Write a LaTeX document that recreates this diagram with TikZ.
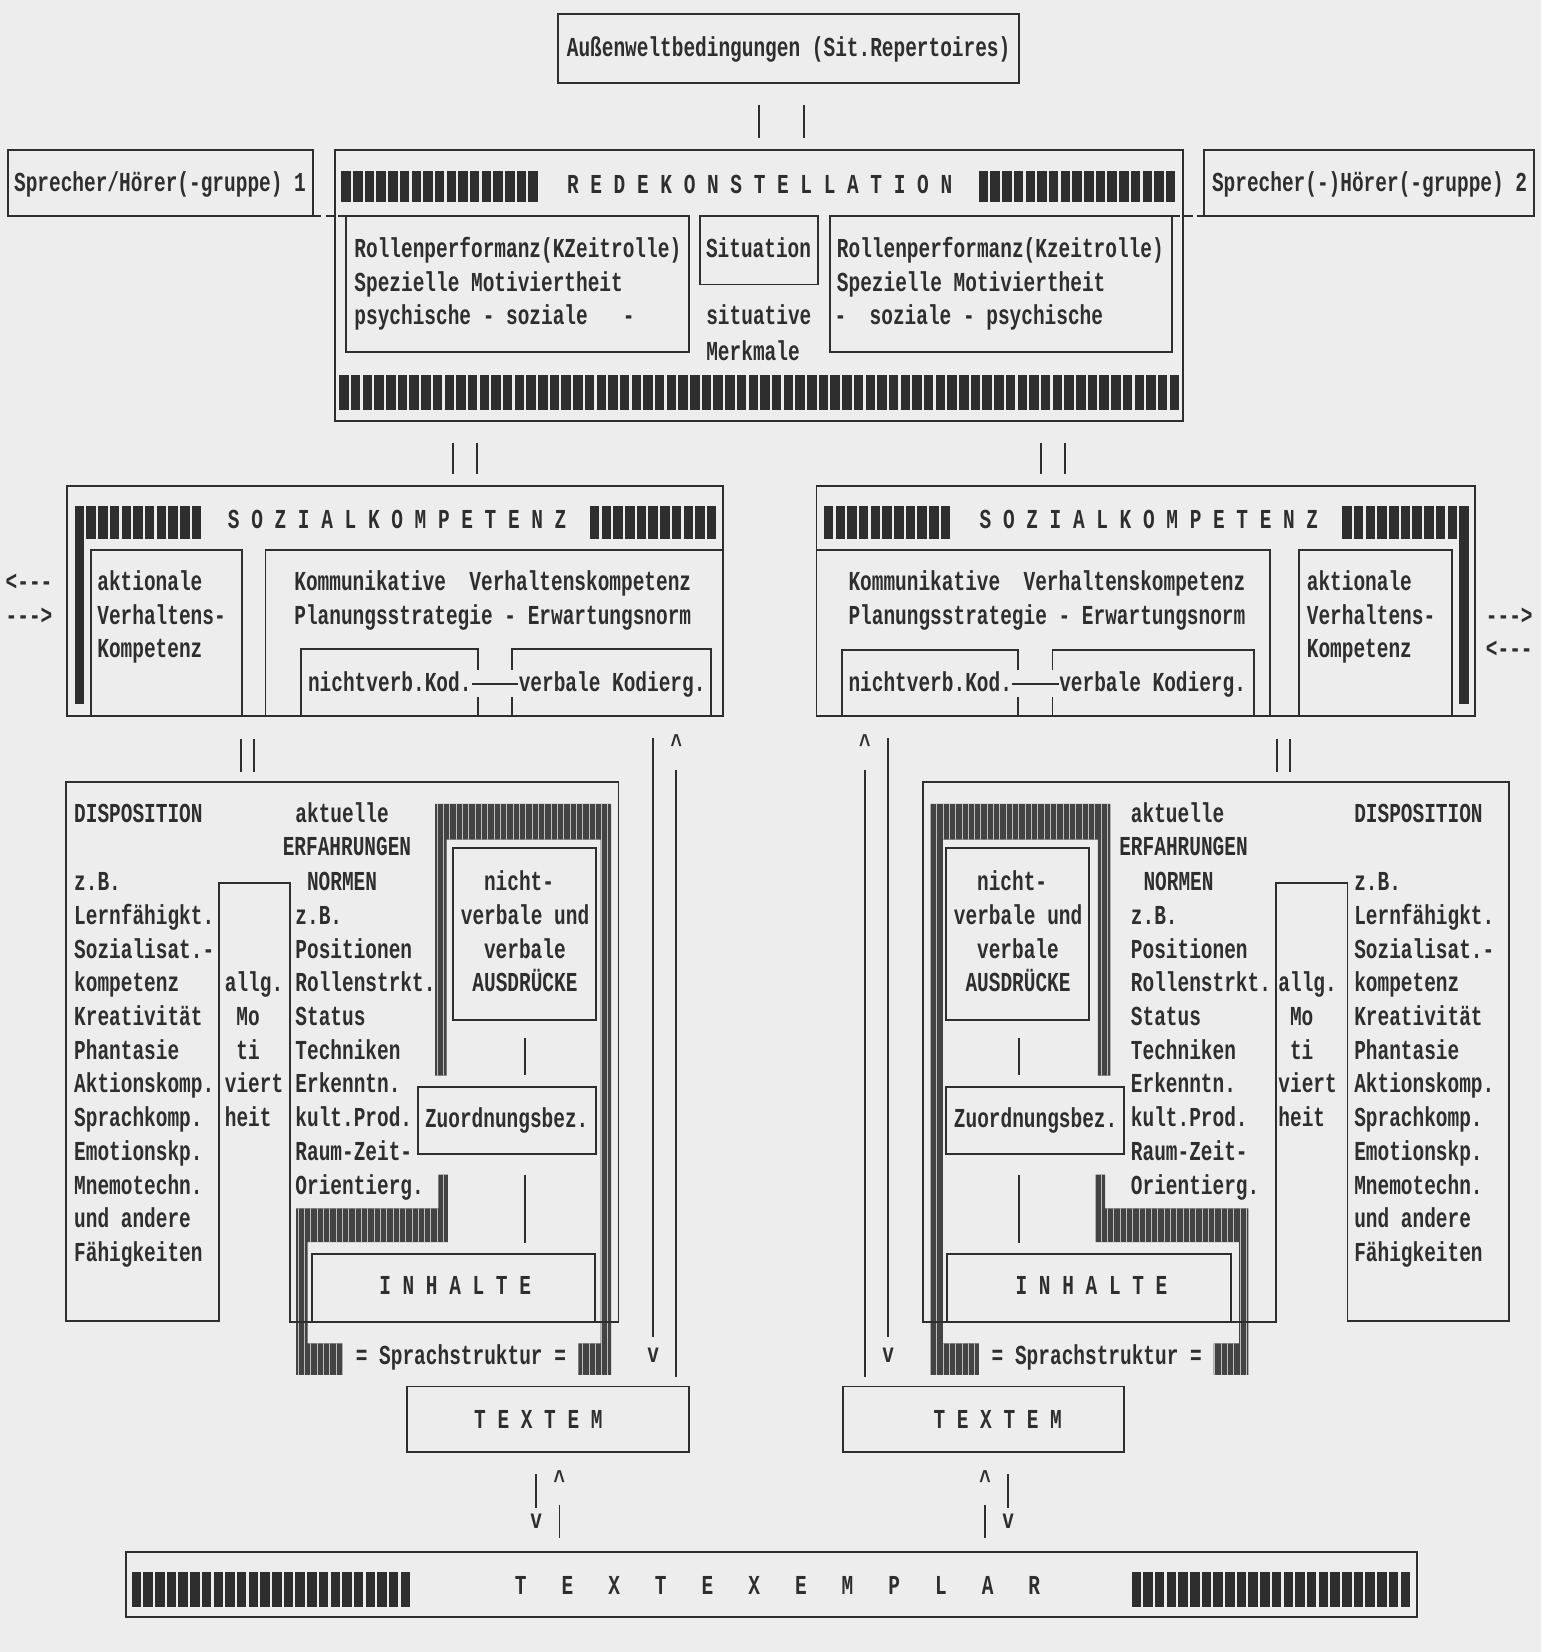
\documentclass[tikz,border=0pt]{standalone}
\usepackage{fontspec}
\setmonofont{Liberation Mono}[FakeStretch=0.71]
\usetikzlibrary{patterns}
\definecolor{ink}{gray}{0.18}
\definecolor{paper}{gray}{0.93}
\tikzset{
    box/.style={draw=ink, line width=0.9pt},
    vline/.style={draw=ink, line width=0.9pt},
    dashlink/.style={draw=ink, line width=0.9pt, dash pattern=on 4pt off 2pt},
    txt/.style={anchor=west, inner sep=0pt, text height=7.4pt, text depth=0pt,
        text=ink, font=\ttfamily\bfseries\fontsize{13}{16}\selectfont},
    ctxt/.style={txt, anchor=center},
    hatch/.style={fill=ink!90, postaction={pattern=vertical lines, pattern color=paper!75!ink}}
}
% row of typewriter blocks: x start, count, y top, y bottom
\newcommand{\blockrow}[4]{%
  \foreach \k in {1,...,#2}
    \fill[ink] ({#1+(\k-1)*11.1},#3) rectangle ++(9,{#4-#3});
}

\begin{document}
\begin{tikzpicture}[x=0.5pt, y=-0.5pt]

\fill[paper] (0,0) rectangle (1463,1568);
\useasboundingbox (0,0) rectangle (1463,1568);

% ------------------------------------------------------------
% Aussenwelt and Redekonstellation
% ------------------------------------------------------------

\draw[box] (530,13) rectangle (967,79);
\node[ctxt] (aussen) at (748.5,46) {Außenweltbedingungen (Sit.Repertoires)};

\coordinate (a1) at (720,100);
\coordinate (a2) at (720,131);
\coordinate (a3) at (763,100);
\coordinate (a4) at (763,131);
\draw[vline] (a1) -- (a2);
\draw[vline] (a3) -- (a4);

% speaker groups
\draw[box] (8,142) rectangle (297,205);
\node[txt] (sp1) at (13,174) {Sprecher/Hörer(-gruppe) 1};
\draw[box] (1143,142) rectangle (1456,205);
\node[txt] (sp2) at (1150,174) {Sprecher(-)Hörer(-gruppe) 2};

\draw[box] (318,142) rectangle (1123,400);
\blockrow{324}{17}{162}{192}
\node[ctxt] (rede) at (721,176) {R E D E K O N S T E L L A T I O N};
\blockrow{929}{17}{162}{192}

\draw[box] (328,205) rectangle (654,334);
\draw[box] (664,205) rectangle (776,270);
\draw[box] (788,205) rectangle (1112,334);

\node[txt] (rl1) at (336,237) {Rollenperformanz(KZeitrolle)};
\node[txt] (rl2) at (336,269) {Spezielle Motiviertheit};
\node[txt] (rl3) at (336,301) {psychische - soziale\ \ \ -};
\node[ctxt] (sit) at (720,237) {Situation};
\node[txt] (rr1) at (794,237) {Rollenperformanz(Kzeitrolle)};
\node[txt] (rr2) at (794,269) {Spezielle Motiviertheit};
\node[txt] (sit2) at (670,301) {situative\ \ -\ \ soziale - psychische};
\node[txt] (merk) at (670,335) {Merkmale};

\blockrow{322}{72}{356}{389}

% dashed joins to the speakers
\coordinate (sp1se) at (297,205);
\coordinate (rlnw) at (328,205);
\coordinate (rrne) at (1112,205);
\coordinate (sp2sw) at (1143,205);
\draw[dashlink] (sp1se) -- (rlnw);
\draw[dashlink] (rrne) -- (sp2sw);

\coordinate (b1) at (430,420);
\coordinate (b2) at (430,450);
\coordinate (b3) at (453,420);
\coordinate (b4) at (453,450);
\coordinate (b5) at (988,420);
\coordinate (b6) at (988,450);
\coordinate (b7) at (1011,420);
\coordinate (b8) at (1011,450);
\draw[vline] (b1) -- (b2);
\draw[vline] (b3) -- (b4);
\draw[vline] (b5) -- (b6);
\draw[vline] (b7) -- (b8);

% ------------------------------------------------------------
% Sozialkompetenz (left)
% ------------------------------------------------------------

\draw[box] (64,461) rectangle (686,680);
\blockrow{71}{11}{480}{512}
\node[ctxt] (sozl) at (377,494) {S O Z I A L K O M P E T E N Z};
\blockrow{560}{11}{480}{512}
\fill[ink] (71,512) rectangle (80,668);

\draw[box] (86,522) rectangle (230,680);
\node[txt] (akl1) at (92,553) {aktionale};
\node[txt] (akl2) at (92,585) {Verhaltens-};
\node[txt] (akl3) at (92,617) {Kompetenz};

\draw[box] (252,522) rectangle (686,680);
\node[txt] (kml1) at (279,553) {Kommunikative\ \ Verhaltenskompetenz};
\node[txt] (kml2) at (279,585) {Planungsstrategie - Erwartungsnorm};

\draw[box] (286,680) -- (286,616) -- (454,616) -- (454,636);
\draw[box] (454,662) -- (454,680);
\draw[box] (486,636) -- (486,616) -- (675,616) -- (675,680);
\draw[box] (486,662) -- (486,680);
\node[txt] (nvl) at (292,649) {nichtverb.Kod.};
\node[txt] (vkl) at (492,649) {verbale Kodierg.};
\draw[vline] (nvl) -- (vkl);

\node[txt] (arl1) at (5,553) {<---};
\node[txt] (arl2) at (5,585) {--->};

% ------------------------------------------------------------
% Sozialkompetenz (right)
% ------------------------------------------------------------

\draw[box] (775,461) rectangle (1400,680);
\blockrow{782}{11}{480}{512}
\node[ctxt] (sozr) at (1090.5,494) {S O Z I A L K O M P E T E N Z};
\blockrow{1274}{11}{480}{512}
\fill[ink] (1385,512) rectangle (1394,668);

\draw[box] (775,522) rectangle (1205,680);
\node[txt] (kmr1) at (805,553) {Kommunikative\ \ Verhaltenskompetenz};
\node[txt] (kmr2) at (805,585) {Planungsstrategie - Erwartungsnorm};

\draw[box] (799,680) -- (799,617) -- (966,617) -- (966,636);
\draw[box] (966,662) -- (966,680);
\draw[box] (999,636) -- (999,617) -- (1190,617) -- (1190,680);
\draw[box] (999,662) -- (999,680);
\node[txt] (nvr) at (805,649) {nichtverb.Kod.};
\node[txt] (vkr) at (1005,649) {verbale Kodierg.};
\draw[vline] (nvr) -- (vkr);

\draw[box] (1233,522) rectangle (1378,680);
\node[txt] (akr1) at (1240,553) {aktionale};
\node[txt] (akr2) at (1240,585) {Verhaltens-};
\node[txt] (akr3) at (1240,617) {Kompetenz};

\node[txt] (arr1) at (1410,585) {--->};
\node[txt] (arr2) at (1410,617) {<---};

\coordinate (c1) at (229,701);
\coordinate (c2) at (229,733);
\coordinate (c3) at (241,701);
\coordinate (c4) at (241,733);
\coordinate (c5) at (1212,701);
\coordinate (c6) at (1212,733);
\coordinate (c7) at (1224,701);
\coordinate (c8) at (1224,733);
\draw[vline] (c1) -- (c2);
\draw[vline] (c3) -- (c4);
\draw[vline] (c5) -- (c6);
\draw[vline] (c7) -- (c8);

% ------------------------------------------------------------
% Disposition / Erfahrungen (left)
% ------------------------------------------------------------

\fill[hatch] (413,763) -- (580,763) -- (580,1305) -- (549,1305) -- (549,1275)
    -- (570,1275) -- (570,797) -- (424,797) -- (424,1021) -- (413,1021) -- cycle;
\fill[hatch] (416,1115) -- (425,1115) -- (425,1179) -- (292,1179) -- (292,1275)
    -- (325,1275) -- (325,1305) -- (281,1305) -- (281,1147) -- (416,1147) -- cycle;

\draw[box] (63,742) -- (587,742) -- (587,1255) -- (275,1255) -- (275,838)
    -- (208,838) -- (208,1254) -- (63,1254) -- cycle;

\node[txt] (displ) at (70,773) {DISPOSITION};
\foreach \t [count=\i from 0] in {z.B., Lernfähigkt., Sozialisat.-, kompetenz,
    Kreativität, Phantasie, Aktionskomp., Sprachkomp., Emotionskp.,
    Mnemotechn., und andere, Fähigkeiten}
  \node[txt] (dl\i) at (70,{838+32*\i}) {\t};

\node[txt] (motl1) at (213,934) {allg.};
\node[txt] (motl2) at (224,966) {Mo};
\node[txt] (motl3) at (224,998) {ti};
\node[txt] (motl4) at (213,1030) {viert};
\node[txt] (motl5) at (213,1062) {heit};

\node[txt] (erl1) at (280,773) {aktuelle};
\node[txt] (erl2) at (268,805) {ERFAHRUNGEN};
\node[txt] (erl3) at (291,838) {NORMEN};
\foreach \t [count=\i from 0] in {z.B., Positionen, Rollenstrkt., Status,
    Techniken, Erkenntn., kult.Prod., Raum-Zeit-, Orientierg.}
  \node[txt] (nl\i) at (280,{870+32*\i}) {\t};

\draw[box] (430,805) rectangle (566,968);
\node[txt] (aul1) at (459,838) {nicht-};
\node[txt] (aul2) at (437,870) {verbale und};
\node[txt] (aul3) at (459,902) {verbale};
\node[txt] (aul4) at (448,934) {AUSDRÜCKE};

\coordinate (d1) at (498,985);
\coordinate (d2) at (498,1020);
\draw[vline] (d1) -- (d2);

\draw[box] (397,1032) rectangle (566,1095);
\node[txt] (zbl) at (403,1063) {Zuordnungsbez.};

\coordinate (d3) at (498,1115);
\coordinate (d4) at (498,1180);
\draw[vline] (d3) -- (d4);

\draw[box] (296,1190) rectangle (565,1255);
\node[ctxt] (inl) at (432,1221) {I N H A L T E};
\node[ctxt] (spl) at (437.5,1288) {= Sprachstruktur =};

% ------------------------------------------------------------
% Disposition / Erfahrungen (right)
% ------------------------------------------------------------

\fill[hatch] (883,763) -- (1054,763) -- (1054,1021) -- (1042,1021) -- (1042,797)
    -- (895,797) -- (895,1275) -- (929,1275) -- (929,1305) -- (883,1305) -- cycle;
\fill[hatch] (1040,1115) -- (1049,1115) -- (1049,1147) -- (1185,1147) -- (1185,1305)
    -- (1152,1305) -- (1152,1275) -- (1176,1275) -- (1176,1179) -- (1040,1179) -- cycle;

\draw[box] (876,742) -- (1432,742) -- (1432,1254) -- (1279,1254) -- (1279,838)
    -- (1211,838) -- (1211,1255) -- (876,1255) -- cycle;

\node[txt] (dispr) at (1285,773) {DISPOSITION};
\foreach \t [count=\i from 0] in {z.B., Lernfähigkt., Sozialisat.-, kompetenz,
    Kreativität, Phantasie, Aktionskomp., Sprachkomp., Emotionskp.,
    Mnemotechn., und andere, Fähigkeiten}
  \node[txt] (dr\i) at (1285,{838+32*\i}) {\t};

\node[txt] (motr1) at (1213,934) {allg.};
\node[txt] (motr2) at (1224,966) {Mo};
\node[txt] (motr3) at (1224,998) {ti};
\node[txt] (motr4) at (1213,1030) {viert};
\node[txt] (motr5) at (1213,1062) {heit};

\node[txt] (err1) at (1073,773) {aktuelle};
\node[txt] (err2) at (1062,805) {ERFAHRUNGEN};
\node[txt] (err3) at (1085,838) {NORMEN};
\foreach \t [count=\i from 0] in {z.B., Positionen, Rollenstrkt., Status,
    Techniken, Erkenntn., kult.Prod., Raum-Zeit-, Orientierg.}
  \node[txt] (nr\i) at (1073,{870+32*\i}) {\t};

\draw[box] (898,805) rectangle (1034,968);
\node[txt] (aur1) at (927,838) {nicht-};
\node[txt] (aur2) at (905,870) {verbale und};
\node[txt] (aur3) at (927,902) {verbale};
\node[txt] (aur4) at (916,934) {AUSDRÜCKE};

\coordinate (e1) at (967,985);
\coordinate (e2) at (967,1020);
\draw[vline] (e1) -- (e2);

\draw[box] (898,1032) rectangle (1067,1095);
\node[txt] (zbr) at (905,1063) {Zuordnungsbez.};

\coordinate (e3) at (967,1115);
\coordinate (e4) at (967,1180);
\draw[vline] (e3) -- (e4);

\draw[box] (899,1190) rectangle (1168,1255);
\node[ctxt] (inr) at (1036,1221) {I N H A L T E};
\node[ctxt] (spr) at (1041,1288) {= Sprachstruktur =};

% ------------------------------------------------------------
% Arrows down to / up from the textems
% ------------------------------------------------------------

\coordinate (la1) at (620,700);
\coordinate (la2) at (620,1269);
\draw[vline] (la1) -- (la2);
\node[ctxt] (lav) at (620,1286) {v};
\node[ctxt] (lbc) at (642,708) {\textasciicircum};
\coordinate (lb1) at (642,731);
\coordinate (lb2) at (642,1307);
\draw[vline] (lb1) -- (lb2);

\node[ctxt] (rcc) at (821,708) {\textasciicircum};
\coordinate (rc1) at (821,731);
\coordinate (rc2) at (821,1307);
\draw[vline] (rc1) -- (rc2);
\coordinate (rd1) at (843,700);
\coordinate (rd2) at (843,1269);
\draw[vline] (rd1) -- (rd2);
\node[ctxt] (rdv) at (843,1286) {v};

\draw[box] (386,1316) rectangle (654,1378);
\node[ctxt] (teml) at (511,1348) {T E X T E M};
\draw[box] (800,1316) rectangle (1067,1378);
\node[ctxt] (temr) at (947,1348) {T E X T E M};

\coordinate (f1) at (509,1399);
\coordinate (f2) at (509,1431);
\draw[vline] (f1) -- (f2);
\node[ctxt] (fv) at (509,1443) {v};
\node[ctxt] (gc) at (531,1406) {\textasciicircum};
\coordinate (g1) at (531,1428);
\coordinate (g2) at (531,1460);
\draw[vline] (g1) -- (g2);

\node[ctxt] (hc) at (935,1406) {\textasciicircum};
\coordinate (h1) at (935,1428);
\coordinate (h2) at (935,1460);
\draw[vline] (h1) -- (h2);
\coordinate (k1) at (957,1399);
\coordinate (k2) at (957,1431);
\draw[vline] (k1) -- (k2);
\node[ctxt] (kv) at (957,1443) {v};

% ------------------------------------------------------------
% Textexemplar
% ------------------------------------------------------------

\draw[box] (120,1473) rectangle (1345,1535);
\blockrow{125}{24}{1492}{1525}
\node[ctxt] (texex) at (738,1506)
    {T\ \ \ E\ \ \ X\ \ \ T\ \ \ E\ \ \ X\ \ \ E\ \ \ M\ \ \ P\ \ \ L\ \ \ A\ \ \ R};
\blockrow{1074}{24}{1492}{1525}

\end{tikzpicture}
\end{document}
